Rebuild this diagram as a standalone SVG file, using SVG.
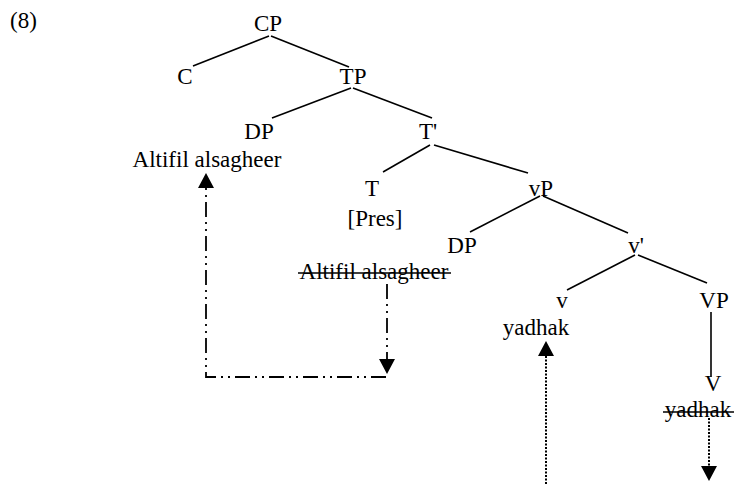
<svg xmlns="http://www.w3.org/2000/svg" width="734" height="484" viewBox="0 0 734 484">
  <style>
    text { font-family: "Liberation Serif", "Times New Roman", serif; font-size: 23px; fill: #000; text-anchor: middle; }
    .edge { stroke: #000; stroke-width: 1.6; fill: none; }
    .strike { stroke: #000; stroke-width: 1.6; }
    .dashdot { stroke: #000; stroke-width: 1.8; fill: none; stroke-dasharray: 15 5 2 5 2 5; }
    .dotted { stroke: #000; stroke-width: 2; fill: none; stroke-dasharray: 2 1.5; }
  </style>

  <text x="10" y="28" style="text-anchor:start">(8)</text>

  <!-- tree branches and movement arrows -->
  <g id="connectors">
    <line class="edge" x1="269" y1="36" x2="193" y2="66"/>
    <line class="edge" x1="271" y1="36" x2="349" y2="67"/>
    <line class="edge" x1="351" y1="88" x2="272" y2="118"/>
    <line class="edge" x1="353" y1="88" x2="432" y2="118"/>
    <line class="edge" x1="430" y1="145" x2="383" y2="172"/>
    <line class="edge" x1="434" y1="145" x2="528" y2="173"/>
    <line class="edge" x1="540" y1="196" x2="470" y2="232"/>
    <line class="edge" x1="543" y1="196" x2="628" y2="233"/>
    <line class="edge" x1="635" y1="255" x2="567" y2="290"/>
    <line class="edge" x1="638" y1="255" x2="707" y2="283"/>
    <line class="edge" x1="711" y1="312" x2="711" y2="377"/>

    <!-- DP movement: lower copy up to Spec,TP -->
    <polyline class="dashdot" points="387,284 387,368"/>
    <path d="M379,359 L395,359 L387,374 Z" fill="#000"/>
    <polyline class="dashdot" points="386,377 206,377 206,188"/>
    <path d="M198,188 L214,188 L206,173 Z" fill="#000"/>

    <!-- verb movement -->
    <line class="dotted" x1="546" y1="484" x2="546" y2="354"/>
    <path d="M538,356 L554,356 L546,341 Z" fill="#000"/>
    <line class="dotted" x1="709" y1="418" x2="709" y2="468"/>
    <path d="M701,466 L717,466 L709,481 Z" fill="#000"/>
  </g>

  <g id="CP"><text x="268" y="31">CP</text></g>
  <g id="C"><text x="185" y="84">C</text></g>
  <g id="TP"><text x="353" y="84">TP</text></g>
  <g id="DP1"><text x="259" y="139">DP</text></g>
  <g id="Tbar"><text x="428" y="139">T'</text></g>
  <g id="subj1"><text x="207" y="167">Altifil alsagheer</text></g>
  <g id="T"><text x="372" y="196">T</text></g>
  <g id="Pres"><text x="375" y="226">[Pres]</text></g>
  <g id="vP"><text x="541" y="196">vP</text></g>
  <g id="DP2"><text x="462" y="253">DP</text></g>
  <g id="vbar"><text x="636" y="253">v'</text></g>
  <g id="subj2">
    <text x="374" y="279">Altifil alsagheer</text>
    <line class="strike" x1="298" y1="273" x2="451" y2="273"/>
  </g>
  <g id="v"><text x="562" y="308">v</text></g>
  <g id="VP"><text x="714" y="308">VP</text></g>
  <g id="yadhak1"><text x="536" y="335">yadhak</text></g>
  <g id="V"><text x="713" y="391">V</text></g>
  <g id="yadhak2">
    <text x="698" y="417">yadhak</text>
    <line class="strike" x1="663" y1="412" x2="734" y2="412"/>
  </g>
</svg>
